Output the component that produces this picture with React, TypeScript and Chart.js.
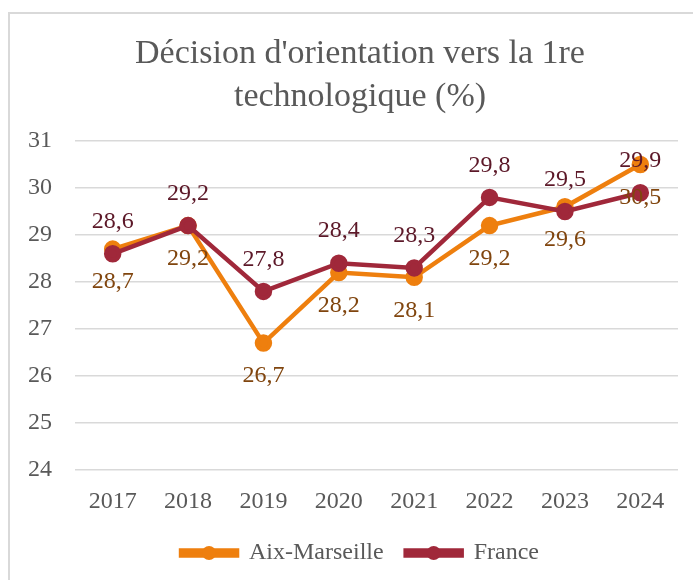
import React, { useEffect, useRef } from "react";
import { Chart, registerables } from "chart.js";

Chart.register(...registerables);

const years = ["2017", "2018", "2019", "2020", "2021", "2022", "2023", "2024"];
const aixMarseille = [28.7, 29.2, 26.7, 28.2, 28.1, 29.2, 29.6, 30.5];
const france = [28.6, 29.2, 27.8, 28.4, 28.3, 29.8, 29.5, 29.9];
const titleLines = ["Décision d'orientation vers la 1re", "technologique (%)"];
const yMin = 24;
const yMax = 31;

const ORANGE = "#EE7F0E";
const RED = "#A0283A";
const ORANGE_LABEL = "#80450E";
const RED_LABEL = "#5C1828";
const AXIS_TEXT = "#595959";
const FONT = "'Liberation Serif', 'DejaVu Serif', serif";

const fmt = (v: number) => v.toFixed(1).replace(".", ",");

const framePlugin = {
  id: "frame",
  beforeDraw(chart: any) {
    const { ctx } = chart;
    ctx.save();
    ctx.fillStyle = "#ffffff";
    ctx.fillRect(0, 0, chart.width, chart.height);
    ctx.strokeStyle = "#d9d9d9";
    ctx.lineWidth = 2;
    ctx.strokeRect(9, 13, 900, 900);
    ctx.restore();
  },
};

const yLabelPlugin = {
  id: "yLabels",
  afterDraw(chart: any) {
    const { ctx } = chart;
    const y = chart.scales.y;
    ctx.save();
    ctx.font = `24px ${FONT}`;
    ctx.fillStyle = AXIS_TEXT;
    ctx.textAlign = "right";
    ctx.textBaseline = "middle";
    y.ticks.forEach((t: any) => {
      ctx.fillText(String(t.value), chart.chartArea.left - 23, y.getPixelForValue(t.value));
    });
    ctx.restore();
  },
};

const labelPlugin = {
  id: "pointLabels",
  afterDatasetsDraw(chart: any) {
    const { ctx } = chart;
    ctx.save();
    ctx.font = `24px ${FONT}`;
    ctx.textAlign = "center";
    ctx.textBaseline = "middle";
    chart.data.datasets.forEach((ds: any, i: number) => {
      const meta = chart.getDatasetMeta(i);
      const below = i === 0;
      ctx.fillStyle = below ? ORANGE_LABEL : RED_LABEL;
      meta.data.forEach((pt: any, j: number) => {
        const v = ds.data[j];
        ctx.fillText(fmt(v), pt.x, pt.y + (below ? 33 : -32));
      });
    });
    ctx.restore();
  },
};

const legendDotPlugin = {
  id: "legendDots",
  afterDraw(chart: any) {
    const lg = chart.legend;
    if (!lg || !lg.legendHitBoxes) return;
    const { ctx } = chart;
    ctx.save();
    lg.legendHitBoxes.forEach((hb: any, i: number) => {
      const item = lg.legendItems[i];
      const ds = chart.data.datasets[item.datasetIndex];
      ctx.fillStyle = ds.borderColor;
      ctx.beginPath();
      ctx.arc(hb.left + 56 / 2, hb.top + hb.height / 2, 7, 0, Math.PI * 2);
      ctx.fill();
    });
    ctx.restore();
  },
};

export default function App() {
  const ref = useRef<HTMLCanvasElement>(null);
  useEffect(() => {
    if (!ref.current) return;
    const chart = new Chart(ref.current, {
      type: "line",
      data: {
        labels: years,
        datasets: [
          {
            label: "Aix-Marseille",
            data: aixMarseille,
            borderColor: ORANGE,
            backgroundColor: ORANGE,
            pointBackgroundColor: ORANGE,
            pointBorderColor: ORANGE,
            borderWidth: 4.5,
            pointRadius: 6.5,
            tension: 0,
            order: 1,
          },
          {
            label: "France",
            data: france,
            borderColor: RED,
            backgroundColor: RED,
            pointBackgroundColor: RED,
            pointBorderColor: RED,
            borderWidth: 4.5,
            pointRadius: 6.5,
            tension: 0,
            order: 0,
          },
        ],
      },
      options: {
        responsive: false,
        animation: false,
        layout: { padding: { left: 42, right: 15, top: 0, bottom: 5 } },
        plugins: {
          tooltip: { enabled: false },
          title: {
            display: true,
            text: titleLines,
            color: AXIS_TEXT,
            font: { family: FONT, size: 34, weight: "normal", lineHeight: 43 / 34 },
            padding: { top: 33, bottom: 22 },
          },
          legend: {
            position: "bottom",
            labels: {
              color: AXIS_TEXT,
              font: { family: FONT, size: 24 },
              boxWidth: 56,
              boxHeight: 5,
              padding: 22,
              sort: (a: any, b: any) => a.datasetIndex - b.datasetIndex,
            },
          },
        },
        scales: {
          x: {
            offset: true,
            grid: { display: false },
            border: { display: false },
            ticks: {
              color: AXIS_TEXT,
              font: { family: FONT, size: 24 },
              padding: 9,
              maxRotation: 0,
            },
            afterFit: (s: any) => {
              s.height = 49;
            },
          },
          y: {
            min: yMin,
            max: yMax,
            grid: { color: "#d9d9d9", lineWidth: 1.5, drawTicks: false },
            border: { display: false },
            ticks: {
              stepSize: 1,
              display: false,
            },
            afterFit: (s: any) => {
              s.width = 33;
            },
          },
        },
      },
      plugins: [framePlugin, labelPlugin, legendDotPlugin, yLabelPlugin],
    });
    return () => chart.destroy();
  }, []);
  return (
    <canvas
      ref={ref}
      width={693}
      height={580}
      style={{ position: "fixed", left: 0, top: 0, width: 693, height: 580 }}
    />
  );
}
